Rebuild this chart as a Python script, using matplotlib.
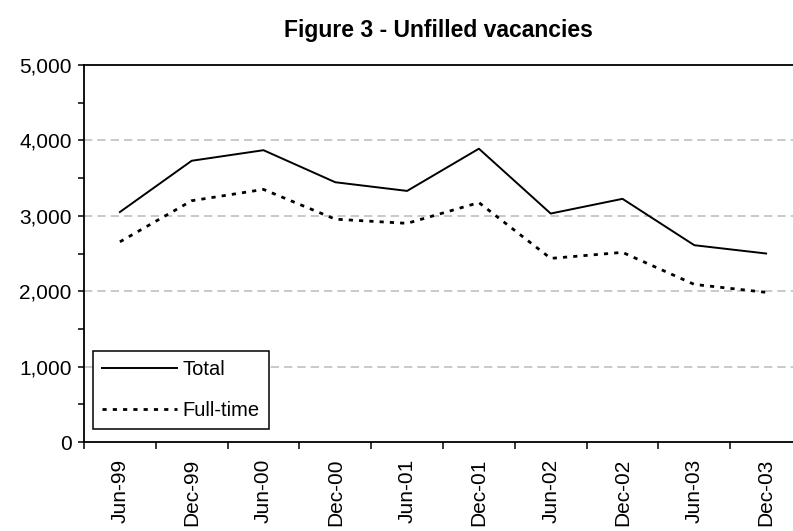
import matplotlib.pyplot as plt
from matplotlib.ticker import MultipleLocator, FuncFormatter

periods = ["Jun-99", "Dec-99", "Jun-00", "Dec-00", "Jun-01",
           "Dec-01", "Jun-02", "Dec-02", "Jun-03", "Dec-03"]
total = [3050, 3730, 3870, 3445, 3330, 3890, 3030, 3225, 2610, 2500]
full_time = [2655, 3200, 3350, 2955, 2900, 3175, 2435, 2515, 2090, 1985]

plt.rcParams["font.family"] = ["Liberation Sans", "DejaVu Sans"]

fig = plt.figure(figsize=(7.93, 5.31), dpi=100)
# plot area runs past the right edge of the picture, as in the original
ax = fig.add_axes([84 / 793, 1 - 442 / 531, 718 / 793, 377 / 531])

x = list(range(len(periods)))
ax.plot(x, total, color="black", lw=1.4, label="Total")
ax.plot(x, full_time, color="black", lw=2.0, linestyle=(0, (1.5, 2.2)),
        label="Full-time")

ax.set_xlim(-0.5, len(periods) - 0.5)
ax.set_ylim(0, 5000)

ax.yaxis.set_major_locator(MultipleLocator(1000))
ax.yaxis.set_minor_locator(MultipleLocator(500))
ax.yaxis.set_major_formatter(FuncFormatter(lambda v, p: f"{int(v):,}"))
ax.tick_params(axis="y", which="both", direction="out", length=4, width=1.1,
               labelsize=15, pad=5)

ax.set_xticks(x)
ax.set_xticklabels(periods, rotation=90)
ax.set_xticks([i - 0.5 for i in range(len(periods) + 1)], minor=True)
ax.tick_params(axis="x", which="major", length=0, labelsize=15, pad=12)
ax.tick_params(axis="x", which="minor", direction="out", length=5, width=1.1)

for y in range(1000, 5000, 1000):
    ax.axhline(y, color="#c0c0c0", lw=1.2, linestyle=(0, (5, 3)), zorder=0)

for s in ax.spines.values():
    s.set_linewidth(1.3)

leg = ax.legend(loc="lower left", bbox_to_anchor=(0.0125, 0.0345),
                borderaxespad=0, fancybox=False, edgecolor="black",
                framealpha=1, fontsize=14.5, handlelength=3.7,
                labelspacing=1.1, handletextpad=0.3, borderpad=0.45)
leg.get_frame().set_linewidth(1.1)

fig.text(438 / 793, 1 - 31 / 531, "Figure 3 - Unfilled vacancies",
         ha="center", va="center", fontsize=16.5, fontweight="bold")

fig.savefig("out.png", dpi=100)
